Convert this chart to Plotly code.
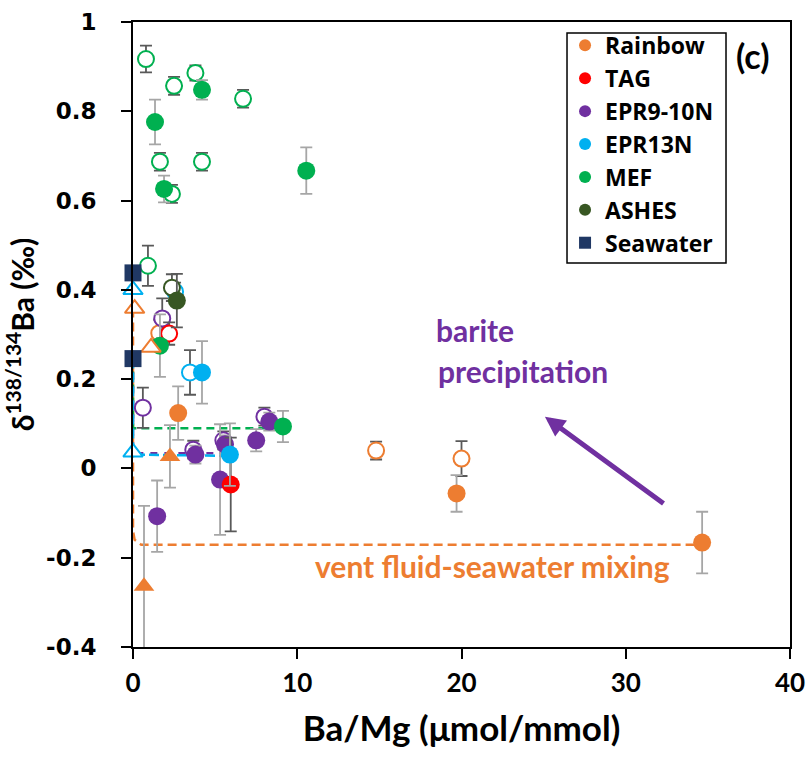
import plotly.graph_objects as go

# ---- site colours ----
C_RAINBOW = "#ED7D31"
C_TAG = "#FF0000"
C_EPR910 = "#7030A0"
C_EPR13 = "#00B0F0"
C_MEF = "#00B050"
C_ASHES = "#385723"
C_SW = "#203864"
ERR_DARK = "#595959"
ERR_LIGHT = "#A6A6A6"

# ---- data: Ba/Mg (umol/mmol), d138/134Ba (permil), 2SD ----
rainbow_open_x = [1.6, 14.8, 20.0]
rainbow_open_y = [0.303, 0.040, 0.022]
rainbow_open_e = [0.03, 0.02, 0.039]
rainbow_fill_x = [2.75, 19.7, 34.65]
rainbow_fill_y = [0.124, -0.056, -0.166]
rainbow_fill_e = [0.06, 0.041, 0.069]

tag_open_x = [2.2]
tag_open_y = [0.302]
tag_open_e = [0.025]
tag_fill_x = [5.95]
tag_fill_y = [-0.036]
tag_fill_e = [0.105]

epr910_open_x = [1.78, 0.6, 3.67, 5.5, 8.0]
epr910_open_y = [0.336, 0.136, 0.042, 0.063, 0.116]
epr910_open_e = [0.045, 0.045, 0.02, 0.02, 0.02]
epr910_fill_x = [3.8, 5.6, 7.5, 8.3, 5.3, 1.47]
epr910_fill_y = [0.031, 0.054, 0.063, 0.105, -0.025, -0.107]
epr910_fill_e = [0.02, 0.02, 0.025, 0.02, 0.124, 0.08]

epr13_open_x = [3.47, 2.56]
epr13_open_y = [0.215, 0.396]
epr13_open_e = [0.05, 0.02]
epr13_fill_x = [4.2, 5.9]
epr13_fill_y = [0.215, 0.031]
epr13_fill_e = [0.07, 0.07]

mef_open_x = [0.79, 2.5, 3.8, 6.7, 1.64, 4.2, 2.37, 0.91]
mef_open_y = [0.917, 0.857, 0.886, 0.828, 0.687, 0.687, 0.615, 0.454]
mef_open_e = [0.03, 0.02, 0.017, 0.02, 0.02, 0.02, 0.02, 0.045]
mef_fill_x = [1.34, 4.2, 1.89, 10.55, 1.64, 9.13]
mef_fill_y = [0.776, 0.848, 0.626, 0.667, 0.275, 0.094]
mef_fill_e = [0.05, 0.022, 0.03, 0.052, 0.07, 0.035]

ashes_open_x = [2.37]
ashes_open_y = [0.405]
ashes_open_e = [0.03]
ashes_fill_x = [2.67]
ashes_fill_y = [0.376]
ashes_fill_e = [0.06]

# end-member estimates (triangles)
tri_rb_open_x = [0.1, 1.1]
tri_rb_open_y = [0.358, 0.271]
tri_rb_fill_x = [2.25, 0.67]
tri_rb_fill_y = [0.027, -0.264]
tri_rb_fill_e = [0.07, 0.18]
tri_epr13_open_x = [0.0, 0.0]
tri_epr13_open_y = [0.40, 0.036]

seawater_x = [0.0, 0.0]
seawater_y = [0.438, 0.246]

# mixing trends between seawater and vent fluid end members
mix_rb_x = [0.0, 0.0, 0.1, 0.5, 34.65]
mix_rb_y = [0.358, -0.14, -0.16, -0.171, -0.171]
mix_mef_x = [0.0, 0.0, 9.13]
mix_mef_y = [0.246, 0.09, 0.09]
mix_epr910_x = [0.0, 0.0, 5.5]
mix_epr910_y = [0.246, 0.034, 0.034]
mix_epr13_x = [0.0, 0.0, 5.9]
mix_epr13_y = [0.246, 0.031, 0.028]

y_tickvals = [-0.4, -0.2, 0, 0.2, 0.4, 0.6, 0.8, 1.0]
y_ticktext = ["-0.4", "-0.2", "0", "0.2", "0.4", "0.6", "0.8", "1"]
x_tickvals = [0, 10, 20, 30, 40]
x_ticktext = ["0", "10", "20", "30", "40"]

FONT = "Lato"
fig = go.Figure()


def mix_line(x, y, color, dash, width=2.5):
    fig.add_trace(go.Scatter(x=x, y=y, mode="lines", showlegend=False,
                             line=dict(color=color, width=width, dash=dash),
                             cliponaxis=False, hoverinfo="skip"))


mix_line(mix_rb_x, mix_rb_y, C_RAINBOW, "9px,5px")
mix_line(mix_mef_x, mix_mef_y, C_MEF, "8px,5px")
mix_line(mix_epr910_x, mix_epr910_y, C_EPR910, "7px,7px")
mix_line(mix_epr13_x, mix_epr13_y, C_EPR13, "10px,4px")


def pts(x, y, e, color, filled, ecolor, symbol="circle", size=18,
        name=None, legend=False, rank=None, clip=True):
    if filled:
        marker = dict(symbol=symbol, size=size, color=color,
                      line=dict(width=0))
    else:
        marker = dict(symbol=symbol, size=size - 2, color="white",
                      line=dict(width=2, color=color))
    err = None
    if e is not None:
        err = dict(type="data", array=e, visible=True, color=ecolor,
                   thickness=1.8, width=6)
    fig.add_trace(go.Scatter(x=x, y=y, mode="markers", marker=marker,
                             error_y=err, name=name, showlegend=legend,
                             legendrank=rank, cliponaxis=clip))


pts(rainbow_open_x, rainbow_open_y, rainbow_open_e, C_RAINBOW, False, ERR_DARK)
pts(rainbow_fill_x, rainbow_fill_y, rainbow_fill_e, C_RAINBOW, True, ERR_LIGHT,
    name="Rainbow", legend=True, rank=1)
pts(epr910_open_x, epr910_open_y, epr910_open_e, C_EPR910, False, ERR_DARK)
pts(epr910_fill_x, epr910_fill_y, epr910_fill_e, C_EPR910, True, ERR_LIGHT,
    name="EPR9-10N", legend=True, rank=3)
pts(tag_open_x, tag_open_y, tag_open_e, C_TAG, False, ERR_DARK)
pts(tag_fill_x, tag_fill_y, tag_fill_e, C_TAG, True, ERR_DARK,
    name="TAG", legend=True, rank=2)
pts(epr13_open_x, epr13_open_y, epr13_open_e, C_EPR13, False, ERR_DARK)
pts(epr13_fill_x, epr13_fill_y, epr13_fill_e, C_EPR13, True, ERR_LIGHT,
    name="EPR13N", legend=True, rank=4)
pts(mef_open_x, mef_open_y, mef_open_e, C_MEF, False, ERR_DARK)
pts(mef_fill_x, mef_fill_y, mef_fill_e, C_MEF, True, ERR_LIGHT,
    name="MEF", legend=True, rank=5)
pts(ashes_open_x, ashes_open_y, ashes_open_e, C_ASHES, False, ERR_DARK)
pts(ashes_fill_x, ashes_fill_y, ashes_fill_e, C_ASHES, True, ERR_DARK,
    name="ASHES", legend=True, rank=6)

# triangles
pts(tri_rb_open_x, tri_rb_open_y, None, C_RAINBOW, False, None,
    symbol="triangle-up", size=19, clip=False)
pts(tri_rb_fill_x, tri_rb_fill_y, tri_rb_fill_e, C_RAINBOW, True, ERR_LIGHT,
    symbol="triangle-up", size=18)
pts(tri_epr13_open_x, tri_epr13_open_y, None, C_EPR13, False, None,
    symbol="triangle-up", size=19, clip=False)

# seawater
pts(seawater_x, seawater_y, None, C_SW, True, None, symbol="square", size=17,
    name="Seawater", legend=True, rank=7, clip=False)

# arrow and labels
fig.add_annotation(x=25.08, y=0.116, ax=32.39, ay=-0.081, xref="x", yref="y",
                   axref="x", ayref="y", showarrow=True, arrowhead=2,
                   arrowsize=0.8, arrowwidth=5, arrowcolor=C_EPR910, text="")
fig.add_annotation(x=18.33, y=0.309, xref="x", yref="y", text="barite",
                   showarrow=False, xanchor="left", yanchor="middle",
                   font=dict(family=FONT, size=30, color=C_EPR910, weight="bold"))
fig.add_annotation(x=18.45, y=0.219, xref="x", yref="y", text="precipitation",
                   showarrow=False, xanchor="left", yanchor="middle",
                   font=dict(family=FONT, size=30, color=C_EPR910, weight="bold"))
fig.add_annotation(x=21.9, y=-0.219, xref="x", yref="y",
                   text="vent fluid-seawater mixing", showarrow=False,
                   xanchor="center", yanchor="middle",
                   font=dict(family=FONT, size=30, color=C_RAINBOW, weight="bold"))
fig.add_annotation(x=37.69, y=0.924, xref="x", yref="y", text="(c)",
                   showarrow=False, xanchor="center", yanchor="middle",
                   font=dict(family=FONT, size=34, color="black", weight="bold"))

# legend frame
fig.add_shape(type="rect", xref="paper", yref="paper",
              x0=0.6606, x1=0.9026, y0=0.6144, y1=0.9824,
              line=dict(color="black", width=1.5), fillcolor="white",
              layer="below")

fig.update_layout(
    width=807, height=758,
    margin=dict(l=133, r=17, t=22, b=111, autoexpand=False),
    plot_bgcolor="white", paper_bgcolor="white",
    font=dict(family=FONT, color="black", weight="bold"),
    legend=dict(x=0.6576, y=0.997, xanchor="left", yanchor="top",
                bgcolor="rgba(0,0,0,0)", borderwidth=0,
                font=dict(family="Open Sans", size=23, color="black",
                          weight="bold"),
                itemsizing="constant", traceorder="normal"),
    xaxis=dict(range=[0, 40], tickvals=x_tickvals, ticktext=x_ticktext,
               ticks="outside", ticklen=10, tickwidth=1.5, tickcolor="black",
               showline=True, linecolor="black", linewidth=2, mirror=True,
               showgrid=False, zeroline=False, ticklabelstandoff=2,
               automargin=False,
               tickfont=dict(family=FONT, size=26, weight="bold"),
               title=dict(text="Ba/Mg (μmol/mmol)", standoff=19,
                          font=dict(family=FONT, size=35, weight="bold"))),
    yaxis=dict(range=[-0.4, 1.0], tickvals=y_tickvals, ticktext=y_ticktext,
               ticks="outside", ticklen=10, tickwidth=1.5, tickcolor="black",
               showline=True, linecolor="black", linewidth=2, mirror=True,
               showgrid=False, zeroline=False, ticklabelstandoff=20,
               automargin=False,
               tickfont=dict(family="DejaVu Sans", size=23, weight="bold"),
               title=dict(text="δ<sup>138/134</sup>Ba (‰)", standoff=6,
                          font=dict(family=FONT, size=30, weight="bold"))),
)

fig.write_html("out.html")
